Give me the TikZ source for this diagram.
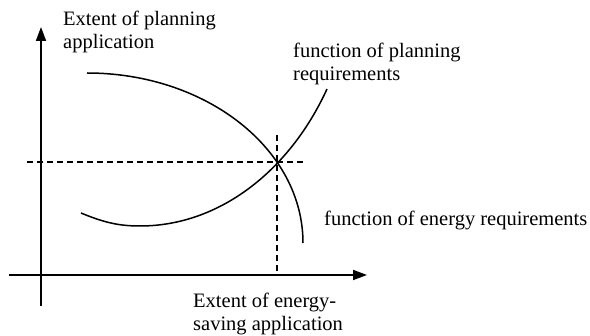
\documentclass[tikz,border=0pt]{standalone}
\usepackage{fontspec}
\setmainfont{Liberation Serif}
\usetikzlibrary{arrows.meta}
\begin{document}
\begin{tikzpicture}[x=1pt,y=-1pt,
  axis/.style={line width=1.8pt,-{Triangle[length=14pt,width=10pt]}},
  axisplain/.style={line width=1.8pt},
  curve/.style={line width=1.5pt},
  guide/.style={line width=1.3pt,dash pattern=on 6pt off 4pt},
  lbl/.style={inner sep=0pt,anchor=north west,align=left,font=\fontsize{20.5}{23}\selectfont}]
\useasboundingbox (0,0) rectangle (590,336);
% axes
\coordinate (yb) at (41,306);
\coordinate (yt) at (41,27);
\coordinate (xl) at (9,275);
\coordinate (xr) at (367,275);
\draw[axis] (yb) -- (yt);
\draw[axis] (xl) -- (xr);
% intersection and guides
\coordinate (P) at (277,162);
\coordinate (hl) at (27,162);
\coordinate (hr) at (305,162);
\coordinate (vt) at (277,135);
\coordinate (vb) at (277,275);
\draw[guide] (hl) -- (hr);
\draw[guide] (vt) -- (vb);
% energy requirement curve (quarter ellipse)
\coordinate (e0) at (87,73);
\draw[curve] (e0) arc[start angle=-90,end angle=0,x radius=216,y radius=170];
% planning requirement curve
\coordinate (p0) at (81,213);
\coordinate (pm) at (140,226);
\coordinate (p1) at (327,89);
\draw[curve] (p0) .. controls (105,223) and (120,226) .. (pm)
  .. controls (220,226) and (290,170) .. (p1);
% labels
\node[lbl] (ly) at (63,11) {Extent of planning\\application};
\node[lbl] (lp) at (293,43) {function of planning\\requirements};
\node[lbl] (le) at (324,211) {function of energy requirements};
\node[lbl] (lx) at (193,293) {Extent of energy-\\saving application};
\end{tikzpicture}
\end{document}
